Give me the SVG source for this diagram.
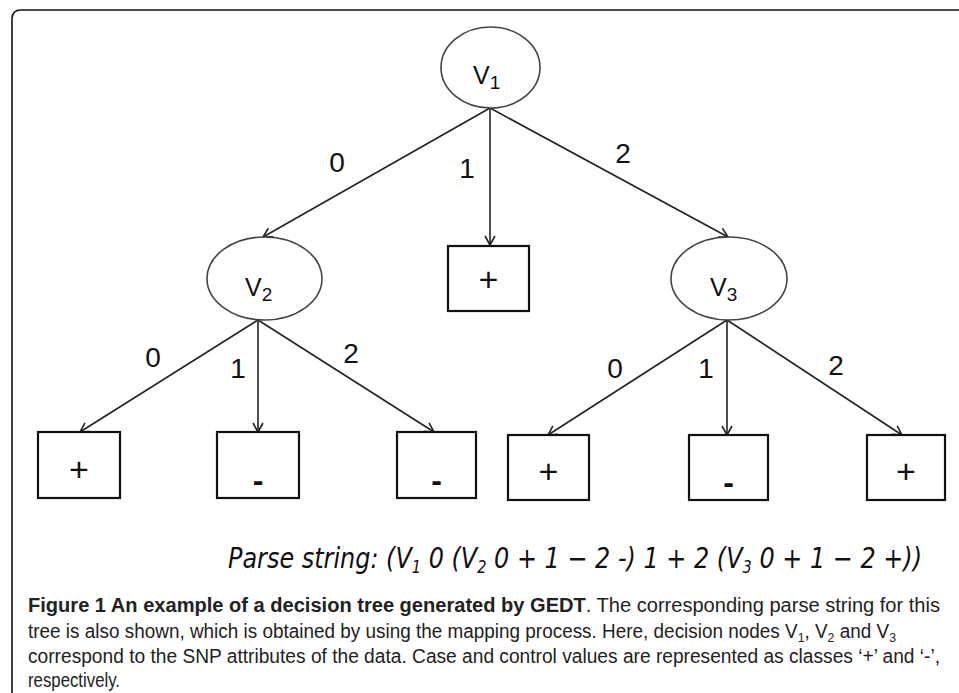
<svg xmlns="http://www.w3.org/2000/svg" width="959" height="693" viewBox="0 0 959 693">
<style>
.ell{fill:#fff;stroke:#444;stroke-width:1.6}
.box{fill:#fff;stroke:#111;stroke-width:2.2}
.edge{stroke:#222;stroke-width:1.6;fill:none}
.lbl{font-family:"Liberation Sans","DejaVu Sans",sans-serif;font-size:28px;fill:#111;text-anchor:middle}
.nt{font-family:"Liberation Sans","DejaVu Sans",sans-serif;font-size:25px;fill:#111}
.sub{font-size:19px}
.plus{font-family:"Liberation Sans","DejaVu Sans",sans-serif;font-size:34px;fill:#111;text-anchor:middle}
.minus{font-family:"Liberation Sans","DejaVu Sans",sans-serif;font-size:32px;font-weight:bold;fill:#111;text-anchor:middle}
.parse{font-family:"DejaVu Sans","Liberation Sans",sans-serif;font-style:italic;font-size:28px;fill:#111}
.cap{font-family:"Liberation Sans","DejaVu Sans",sans-serif;font-size:20px;fill:#222}
</style>
<defs>
<marker id="arr" markerUnits="userSpaceOnUse" markerWidth="14" markerHeight="14" refX="10" refY="6" orient="auto">
<path d="M1,1 L10,6 L1,11" fill="none" stroke="#222" stroke-width="1.6"/>
</marker>
</defs>
<rect width="959" height="693" fill="#fff"/>
<path d="M12,693 L12,19 Q12,10 21,10 L959,10" fill="none" stroke="#111" stroke-width="1.6"/>

<g id="connectors">
<line class="edge" x1="490" y1="108" x2="263" y2="237" marker-end="url(#arr)"/>
<line class="edge" x1="490" y1="108" x2="490" y2="245" marker-end="url(#arr)"/>
<line class="edge" x1="490" y1="108" x2="728" y2="237" marker-end="url(#arr)"/>
<line class="edge" x1="258" y1="320" x2="80" y2="432" marker-end="url(#arr)"/>
<line class="edge" x1="258" y1="320" x2="258" y2="432" marker-end="url(#arr)"/>
<line class="edge" x1="258" y1="320" x2="434" y2="432" marker-end="url(#arr)"/>
<line class="edge" x1="727" y1="320" x2="548" y2="435" marker-end="url(#arr)"/>
<line class="edge" x1="727" y1="320" x2="727" y2="435" marker-end="url(#arr)"/>
<line class="edge" x1="727" y1="320" x2="902" y2="435" marker-end="url(#arr)"/>
<text class="lbl" x="337" y="172">0</text>
<text class="lbl" x="467" y="178">1</text>
<text class="lbl" x="623" y="163">2</text>
<text class="lbl" x="153" y="367">0</text>
<text class="lbl" x="238" y="378">1</text>
<text class="lbl" x="351" y="363">2</text>
<text class="lbl" x="615" y="378">0</text>
<text class="lbl" x="706" y="378">1</text>
<text class="lbl" x="836" y="375">2</text>
</g>

<g id="v1"><ellipse class="ell" cx="490.5" cy="67.5" rx="49.5" ry="40.5"/>
<text class="nt" x="473" y="84">V<tspan class="sub" dy="5">1</tspan></text></g>
<g id="v2"><ellipse class="ell" cx="264.5" cy="278.5" rx="57.5" ry="41.5"/>
<text class="nt" x="245" y="296">V<tspan class="sub" dy="5">2</tspan></text></g>
<g id="v3"><ellipse class="ell" cx="729" cy="278.5" rx="58" ry="41.5"/>
<text class="nt" x="710" y="296">V<tspan class="sub" dy="5">3</tspan></text></g>

<g id="leaf-mid"><rect class="box" x="448" y="246" width="81" height="65"/><text class="plus" x="488.5" y="291">+</text></g>
<g id="leaf1"><rect class="box" x="38" y="432" width="82" height="66"/><text class="plus" x="79" y="481">+</text></g>
<g id="leaf2"><rect class="box" x="217" y="432" width="82" height="66"/><text class="minus" x="258" y="491">-</text></g>
<g id="leaf3"><rect class="box" x="397" y="432" width="79" height="66"/><text class="minus" x="436.5" y="491">-</text></g>
<g id="leaf4"><rect class="box" x="508" y="435" width="81" height="65"/><text class="plus" x="548.5" y="483">+</text></g>
<g id="leaf5"><rect class="box" x="689" y="435" width="79" height="65"/><text class="minus" x="728.5" y="493">-</text></g>
<g id="leaf6"><rect class="box" x="867" y="435" width="78" height="65"/><text class="plus" x="906" y="483">+</text></g>

<text class="parse" x="228" y="568" textLength="694" lengthAdjust="spacingAndGlyphs">Parse string: (V<tspan font-size="17" dy="5">1</tspan><tspan dy="-5"> 0 (V</tspan><tspan font-size="17" dy="5">2</tspan><tspan dy="-5"> 0 + 1 − 2 -) 1 + 2 (V</tspan><tspan font-size="17" dy="5">3</tspan><tspan dy="-5"> 0 + 1 − 2 +))</tspan></text>

<g id="caption">
<text class="cap" x="28" y="612" textLength="912" lengthAdjust="spacingAndGlyphs"><tspan font-weight="bold">Figure 1 An example of a decision tree generated by GEDT</tspan>. The corresponding parse string for this</text>
<text class="cap" x="28" y="638" textLength="868" lengthAdjust="spacingAndGlyphs">tree is also shown, which is obtained by using the mapping process. Here, decision nodes V<tspan font-size="13" dy="4">1</tspan><tspan dy="-4">, V</tspan><tspan font-size="13" dy="4">2</tspan><tspan dy="-4"> and V</tspan><tspan font-size="13" dy="4">3</tspan></text>
<text class="cap" x="28" y="663" textLength="912" lengthAdjust="spacingAndGlyphs">correspond to the SNP attributes of the data. Case and control values are represented as classes ‘+’ and ‘-’,</text>
<text class="cap" x="28" y="687" textLength="92" lengthAdjust="spacingAndGlyphs">respectively.</text>
</g>
</svg>
